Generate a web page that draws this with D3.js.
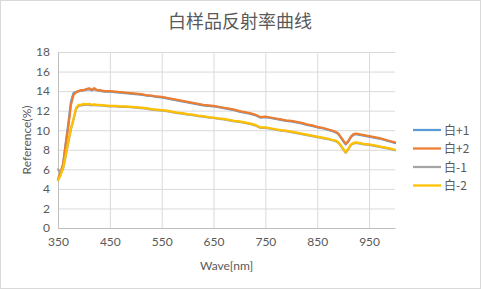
<!DOCTYPE html>
<html>
<head>
<meta charset="utf-8">
<script src="https://cdn.jsdelivr.net/npm/d3@7"></script>
<style>
  html, body { margin: 0; padding: 0; background: #fff; }
  svg { display: block; font-family: Lato, "Noto Sans CJK SC", sans-serif; }
</style>
</head>
<body>
<div id="chart"></div>
<script>
const title = "白样品反射率曲线";
const xLabel = "Wave[nm]";
const yLabel = "Reference(%)";
const seriesNames = ["白+1", "白+2", "白-1", "白-2"];
const colors = ["#5B9BD5", "#ED7D31", "#A5A5A5", "#FFC000"];
const xTicks = [350, 450, 550, 650, 750, 850, 950];
const yTicks = [0, 2, 4, 6, 8, 10, 12, 14, 16, 18];

const wave = [350,355,360,365,370,375,380,385,390,395,400,405,410,415,420,425,430,
  440,450,460,470,480,490,500,510,520,530,540,550,560,570,580,590,600,610,620,630,640,650,
  660,670,680,690,700,710,720,730,740,750,760,770,780,790,800,810,820,830,840,850,860,870,880,
  885,890,895,900,905,910,915,920,925,930,935,940,
  950,960,970,980,990,1000];

const plus2 = [5.0,5.7,6.6,8.6,10.4,12.6,13.6,13.9,14.0,14.1,14.1,14.2,14.3,14.1,14.3,14.1,14.1,
  14.0,14.0,13.95,13.9,13.85,13.8,13.75,13.7,13.6,13.55,13.45,13.4,13.3,13.2,13.1,13.0,12.9,12.8,12.7,12.6,12.55,12.5,
  12.4,12.3,12.2,12.1,11.95,11.85,11.75,11.6,11.35,11.4,11.3,11.2,11.1,11.0,10.95,10.85,10.75,10.6,10.5,10.35,10.25,10.1,9.95,
  9.85,9.7,9.35,8.95,8.6,8.9,9.35,9.6,9.65,9.6,9.55,9.5,
  9.4,9.3,9.2,9.05,8.9,8.75];

const plus1 = [4.9,5.5,6.5,8.7,10.7,12.9,13.8,13.9,14.0,14.05,14.1,14.15,14.2,14.1,14.2,14.1,14.05,
  13.95,13.95,13.9,13.85,13.8,13.75,13.7,13.65,13.55,13.5,13.4,13.35,13.25,13.15,13.05,12.95,12.85,12.75,12.65,12.55,12.5,12.45,
  12.35,12.25,12.15,12.05,11.9,11.8,11.7,11.55,11.3,11.35,11.25,11.15,11.05,10.95,10.9,10.8,10.7,10.55,10.45,10.3,10.2,10.05,9.9,
  9.8,9.65,9.3,8.9,8.55,8.85,9.3,9.55,9.6,9.55,9.5,9.45,
  9.35,9.25,9.15,9.0,8.85,8.7];

const minus1 = [6.0,5.6,6.1,7.4,8.8,10.1,11.1,12.2,12.5,12.55,12.6,12.6,12.6,12.55,12.6,12.55,12.55,
  12.5,12.45,12.45,12.4,12.4,12.35,12.3,12.25,12.2,12.1,12.05,12.0,11.95,11.85,11.75,11.7,11.6,11.55,11.45,11.4,11.3,11.25,
  11.15,11.1,11.0,10.9,10.85,10.75,10.65,10.5,10.25,10.25,10.15,10.05,9.95,9.9,9.8,9.7,9.6,9.5,9.4,9.3,9.2,9.1,8.95,
  8.9,8.75,8.45,8.05,7.7,8.05,8.5,8.65,8.7,8.65,8.6,8.55,
  8.5,8.4,8.3,8.2,8.1,7.95];

const minus2 = [4.9,5.4,6.2,7.5,8.9,10.2,11.2,12.3,12.6,12.6,12.7,12.65,12.7,12.6,12.65,12.6,12.6,
  12.55,12.5,12.5,12.45,12.45,12.4,12.35,12.3,12.25,12.15,12.1,12.05,12.0,11.9,11.8,11.75,11.65,11.6,11.5,11.45,11.35,11.3,
  11.2,11.15,11.05,10.95,10.9,10.8,10.7,10.55,10.3,10.3,10.2,10.1,10.0,9.95,9.85,9.75,9.65,9.55,9.45,9.35,9.25,9.15,9.0,
  8.95,8.8,8.5,8.1,7.75,8.1,8.55,8.7,8.75,8.7,8.65,8.6,
  8.55,8.45,8.35,8.25,8.15,8.0];

const seriesValues = [plus1, plus2, minus1, minus2];

const W = 481, H = 289;
const margin = { top: 52, right: 86, bottom: 61, left: 58 };
const width = W - margin.left - margin.right;
const height = H - margin.top - margin.bottom;

const svg = d3.select("#chart").append("svg")
  .attr("width", W)
  .attr("height", H);

svg.append("rect")
  .attr("x", 0.5).attr("y", 0.5)
  .attr("width", W - 1).attr("height", H - 1)
  .attr("fill", "#fff")
  .attr("stroke", "#D9D9D9");

svg.append("text")
  .attr("x", 240).attr("y", 28)
  .attr("text-anchor", "middle")
  .attr("font-family", "'Noto Sans CJK SC', sans-serif")
  .attr("font-size", 18)
  .attr("fill", "#595959")
  .text(title);

const g = svg.append("g").attr("transform", `translate(${margin.left},${margin.top})`);

const x = d3.scaleLinear().domain([350, 1000]).range([0, width]);
const y = d3.scaleLinear().domain([0, 18]).range([height, 0]);

// grid
g.append("g")
  .call(d3.axisLeft(y).tickValues(yTicks).tickSize(-width).tickFormat(""))
  .call(a => a.select(".domain").remove())
  .call(a => a.selectAll("line").attr("stroke", "#D9D9D9"));

g.append("g")
  .attr("transform", `translate(0,${height})`)
  .call(d3.axisBottom(x).tickValues(xTicks).tickSize(-height).tickFormat(""))
  .call(a => a.select(".domain").remove())
  .call(a => a.selectAll("line").attr("stroke", "#D9D9D9"));

// axes labels
g.append("g")
  .call(d3.axisLeft(y).tickValues(yTicks).tickSize(0).tickPadding(8))
  .call(a => a.select(".domain").attr("stroke", "#BFBFBF"))
  .call(a => a.selectAll("text").attr("fill", "#595959").attr("font-size", 12).attr("font-family", "Lato, sans-serif"));

g.append("g")
  .attr("transform", `translate(0,${height})`)
  .call(d3.axisBottom(x).tickValues(xTicks).tickSize(0).tickPadding(9))
  .call(a => a.select(".domain").attr("stroke", "#BFBFBF"))
  .call(a => a.selectAll("text").attr("fill", "#595959").attr("font-size", 12).attr("font-family", "Lato, sans-serif"));

svg.append("text")
  .attr("x", margin.left + width / 2).attr("y", 270)
  .attr("text-anchor", "middle")
  .attr("font-size", 12)
  .attr("fill", "#595959")
  .text(xLabel);

svg.append("text")
  .attr("transform", `translate(31,${margin.top + height / 2}) rotate(-90)`)
  .attr("text-anchor", "middle")
  .attr("font-size", 12)
  .attr("fill", "#595959")
  .text(yLabel);

// lines
const line = d3.line()
  .x((d, i) => x(wave[i]))
  .y(d => y(d));

seriesValues.forEach((vals, k) => {
  g.append("path")
    .datum(vals)
    .attr("fill", "none")
    .attr("stroke", colors[k])
    .attr("stroke-width", 2.25)
    .attr("stroke-linejoin", "round")
    .attr("stroke-linecap", "round")
    .attr("d", line);
});

// legend
const legend = svg.append("g").attr("transform", "translate(413,130)");
seriesNames.forEach((name, k) => {
  const row = legend.append("g").attr("transform", `translate(0,${k * 18.5})`);
  row.append("line")
    .attr("x1", 0).attr("x2", 28)
    .attr("stroke", colors[k]).attr("stroke-width", 2.25);
  row.append("text")
    .attr("x", 31).attr("y", 4.5)
    .attr("font-size", 12)
    .attr("font-family", "'Noto Sans CJK SC', sans-serif")
    .attr("fill", "#595959")
    .text(name);
});
</script>
</body>
</html>
